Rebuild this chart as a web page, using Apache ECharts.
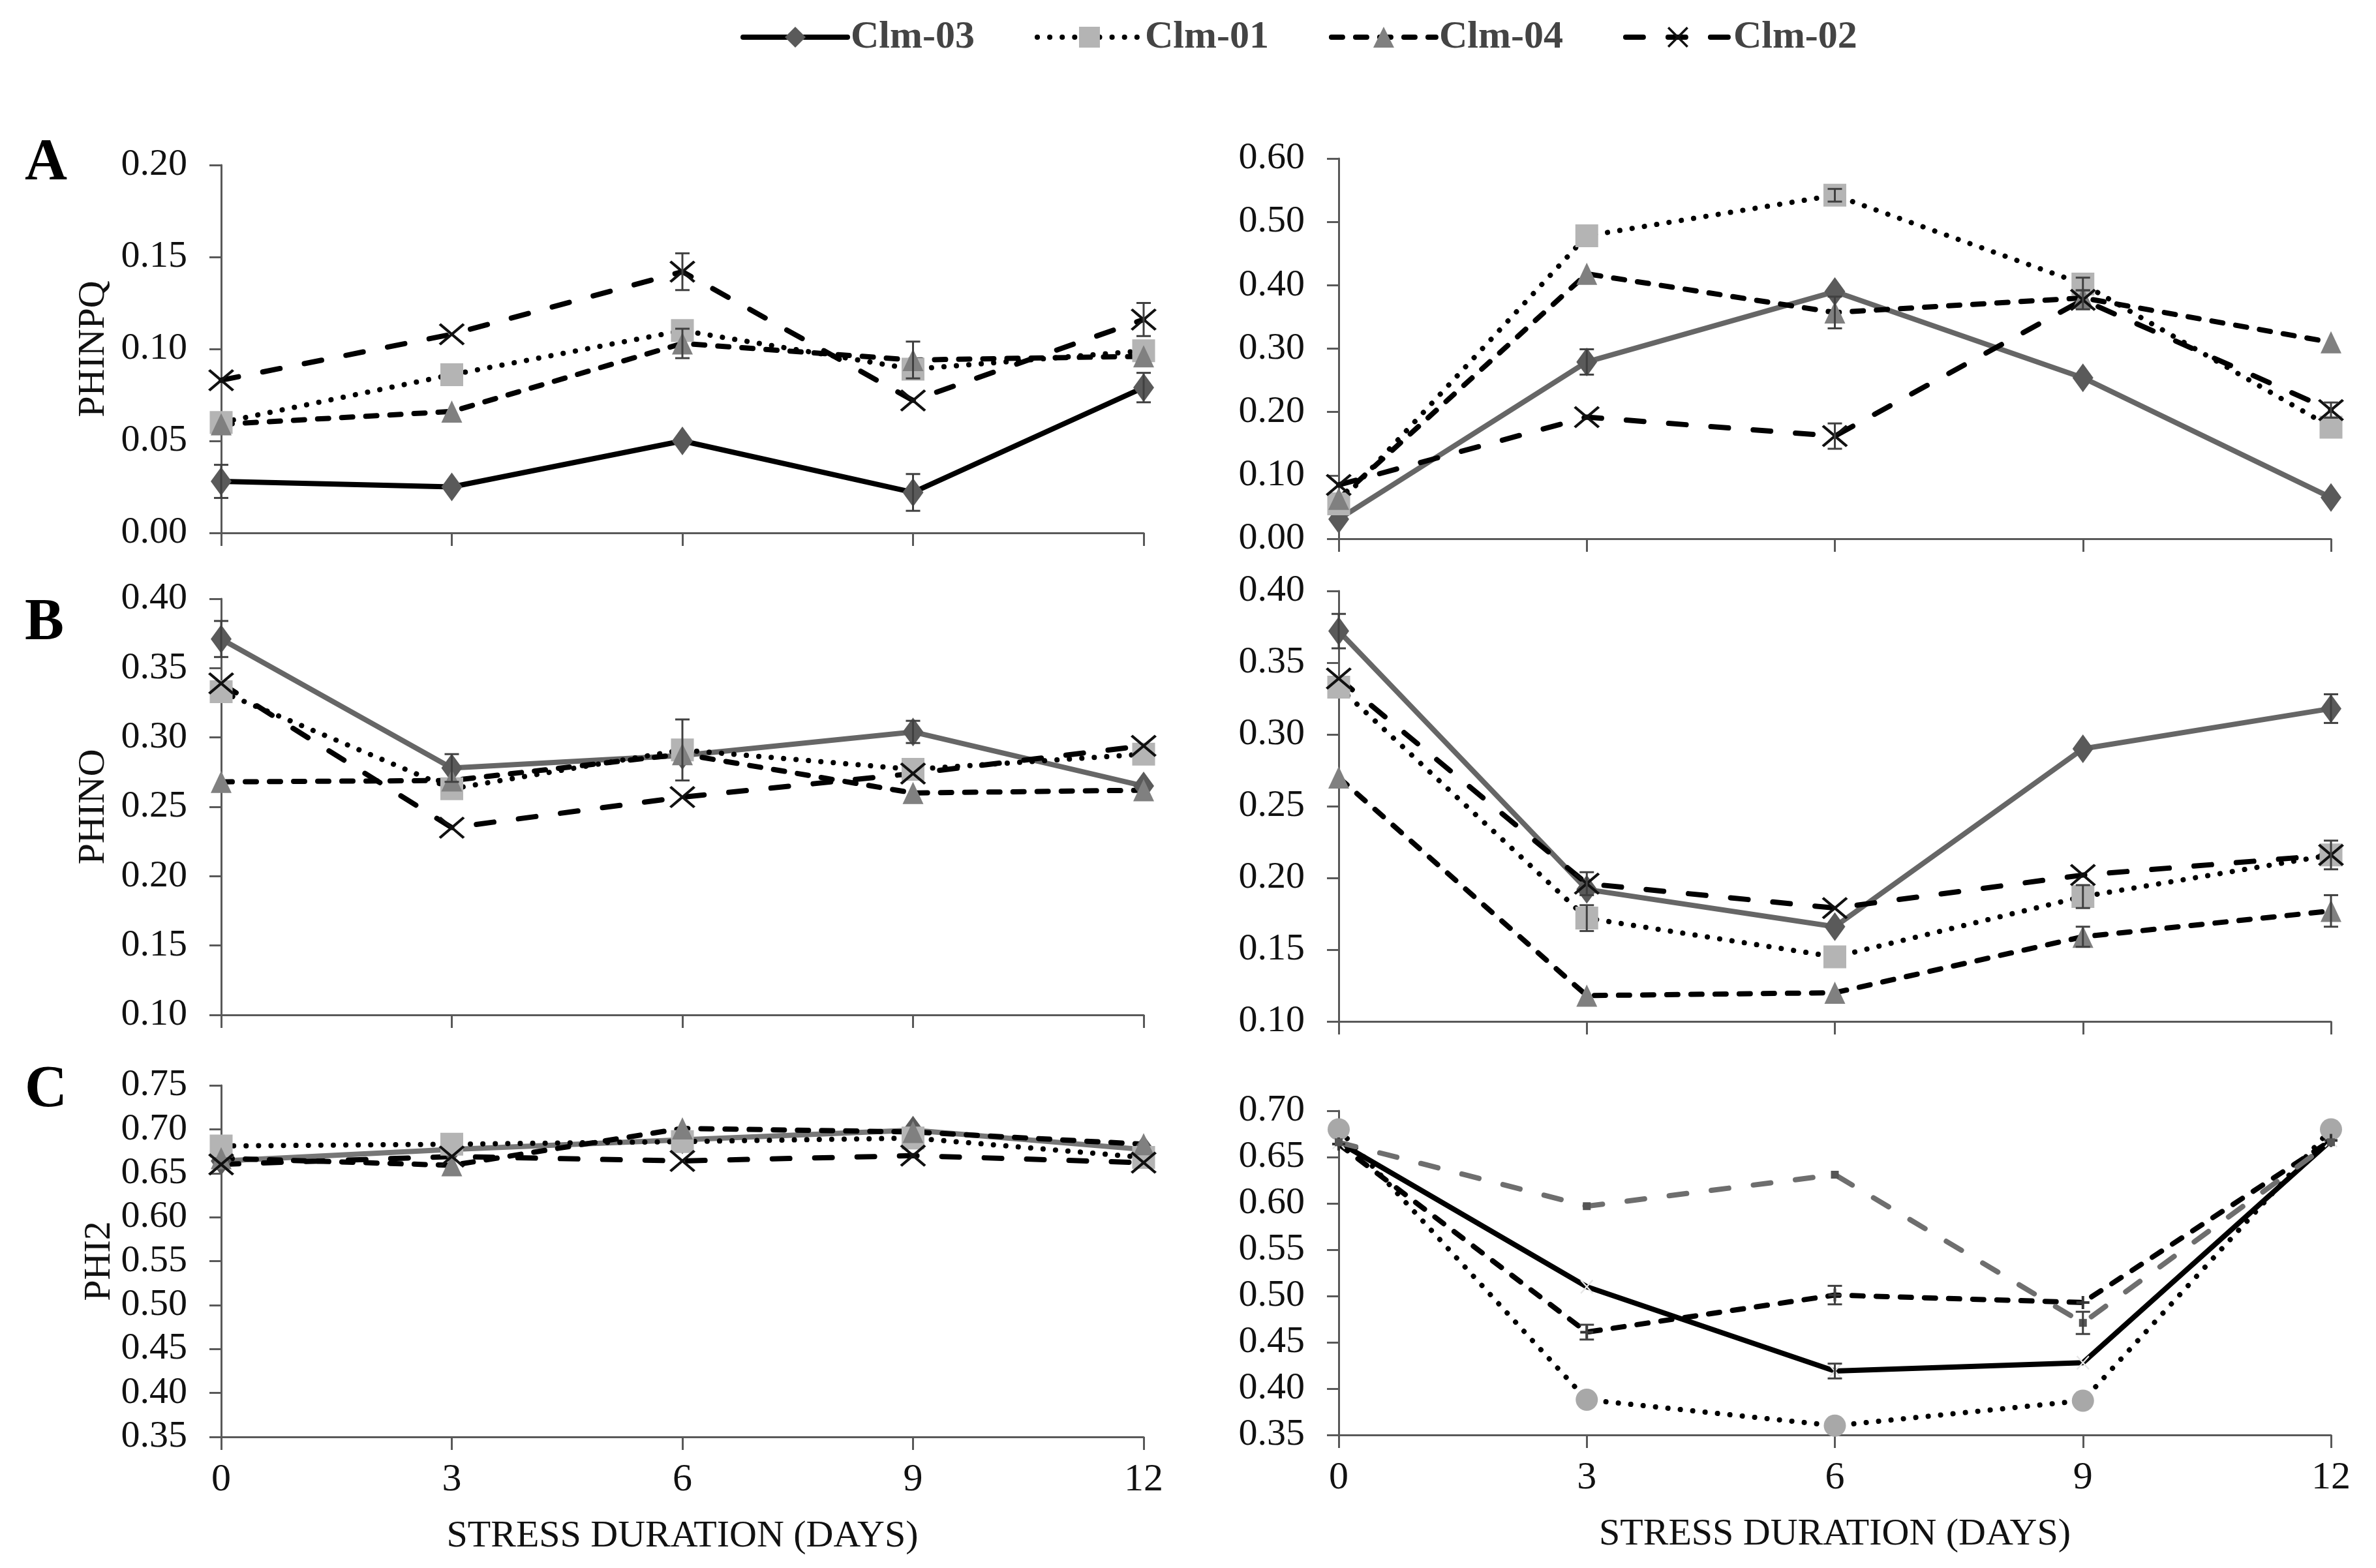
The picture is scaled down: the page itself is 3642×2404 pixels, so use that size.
<!DOCTYPE html>
<html>
<head>
<meta charset="utf-8">
<script src="https://cdn.jsdelivr.net/npm/echarts@6/dist/echarts.min.js"></script>
<style>html,body{margin:0;padding:0;background:#fff}#chart{width:3642px;height:2404px}</style>
</head>
<body>
<div id="chart"></div>
<script>
// ---------- DATA ----------
const days = [0, 3, 6, 9, 12];
const seriesNames = ['Clm-03', 'Clm-01', 'Clm-04', 'Clm-02'];

// rows: Clm-03, Clm-01, Clm-04, Clm-02
const phinpqLeft = [
  [0.028, 0.025, 0.050, 0.022, 0.079],
  [0.060, 0.086, 0.110, 0.089, 0.099],
  [0.059, 0.066, 0.103, 0.094, 0.096],
  [0.083, 0.108, 0.142, 0.072, 0.116]
];
const phinpqLeftErr = [
  [0.009, 0, 0, 0.010, 0.008],
  [0, 0, 0, 0, 0],
  [0, 0, 0.008, 0.010, 0],
  [0, 0, 0.010, 0, 0.009]
];
const phinpqRight = [
  [0.031, 0.279, 0.390, 0.254, 0.065],
  [0.055, 0.478, 0.542, 0.402, 0.176],
  [0.063, 0.418, 0.357, 0.380, 0.310],
  [0.085, 0.192, 0.162, 0.377, 0.203]
];
const phinpqRightErr = [
  [0, 0.020, 0, 0, 0],
  [0, 0, 0.010, 0.010, 0],
  [0, 0, 0.025, 0, 0],
  [0, 0, 0.020, 0.015, 0.012]
];
const phinoLeft = [
  [0.371, 0.278, 0.287, 0.304, 0.265],
  [0.333, 0.263, 0.291, 0.277, 0.288],
  [0.268, 0.269, 0.288, 0.260, 0.262],
  [0.339, 0.235, 0.257, 0.274, 0.294]
];
const phinoLeftErr = [
  [0.013, 0.010, 0, 0.008, 0],
  [0, 0, 0.022, 0, 0],
  [0, 0, 0, 0, 0],
  [0, 0, 0, 0, 0]
];
const phinoRight = [
  [0.372, 0.192, 0.166, 0.290, 0.318],
  [0.333, 0.172, 0.145, 0.187, 0.216],
  [0.270, 0.118, 0.120, 0.159, 0.177],
  [0.339, 0.196, 0.179, 0.202, 0.216]
];
const phinoRightErr = [
  [0.012, 0, 0, 0, 0.010],
  [0, 0.009, 0, 0.008, 0.010],
  [0, 0, 0, 0.007, 0.011],
  [0, 0.008, 0, 0, 0]
];
const phi2Left = [
  [0.664, 0.677, 0.688, 0.699, 0.677],
  [0.681, 0.683, 0.686, 0.690, 0.668],
  [0.667, 0.659, 0.701, 0.697, 0.683],
  [0.660, 0.669, 0.664, 0.670, 0.662]
];
const phi2LeftErr = [
  [0, 0, 0, 0, 0],
  [0, 0, 0, 0, 0],
  [0, 0, 0, 0, 0],
  [0, 0, 0, 0, 0]
];
const phi2Right = [
  [0.666, 0.510, 0.419, 0.428, 0.668],
  [0.680, 0.388, 0.360, 0.387, 0.680],
  [0.664, 0.461, 0.501, 0.493, 0.668],
  [0.666, 0.597, 0.631, 0.471, 0.666]
];
const phi2RightErr = [
  [0, 0, 0.008, 0, 0],
  [0, 0, 0, 0, 0],
  [0, 0.008, 0.010, 0, 0],
  [0, 0, 0, 0.012, 0]
];
const yTitles = ['PHINPQ', 'PHINO', 'PHI2'];
const panelLetters = ['A', 'B', 'C'];
const xTitle = 'STRESS DURATION (DAYS)';

// ---------- LAYOUT / STYLE ----------
const FONT = "'Liberation Serif', 'Times New Roman', serif";
const X_PATH = 'path://M0,0.8 L0.8,0 L5,4.2 L9.2,0 L10,0.8 L5.8,5 L10,9.2 L9.2,10 L5,5.8 L0.8,10 L0,9.2 L4.2,5 Z';
const PLUS_PATH = 'path://M4,0 H6 V4 H10 V6 H6 V10 H4 V6 H0 V4 H4 Z';

const panels = [
  {data: phinpqLeft, err: phinpqLeftErr, grid: {left: 339, top: 253, width: 1414, height: 564}, min: 0, max: 0.2, interval: 0.05, row: 0, col: 0, c03: '#000000'},
  {data: phinpqRight, err: phinpqRightErr, grid: {left: 2052, top: 243, width: 1521, height: 583}, min: 0, max: 0.6, interval: 0.1, row: 0, col: 1, c03: '#666666'},
  {data: phinoLeft, err: phinoLeftErr, grid: {left: 339, top: 918, width: 1414, height: 638}, min: 0.1, max: 0.4, interval: 0.05, row: 1, col: 0, c03: '#666666'},
  {data: phinoRight, err: phinoRightErr, grid: {left: 2052, top: 906, width: 1521, height: 660}, min: 0.1, max: 0.4, interval: 0.05, row: 1, col: 1, c03: '#666666'},
  {data: phi2Left, err: phi2LeftErr, grid: {left: 339, top: 1664, width: 1414, height: 539}, min: 0.35, max: 0.75, interval: 0.05, row: 2, col: 0, c03: '#777777'},
  {data: phi2Right, err: phi2RightErr, grid: {left: 2052, top: 1703, width: 1521, height: 497}, min: 0.35, max: 0.70, interval: 0.05, row: 2, col: 1, c03: '#000000', special: true}
];

const LW = 8;
const DOT = [0.1, 19], SHORT = [17, 20], LONG = [27, 38];
function styleFor(si, p) {
  if (p.special) {
    return [
      {lineStyle: {color: '#000', width: LW, type: 'solid', cap: 'round'}, symbol: X_PATH, symbolSize: [20, 22], itemStyle: {color: '#e6e6e6'}},
      {lineStyle: {color: '#000', width: LW, type: DOT, cap: 'round'}, symbol: 'circle', symbolSize: 34, itemStyle: {color: '#a8a8a8'}},
      {lineStyle: {color: '#000', width: LW, type: SHORT, cap: 'round'}, symbol: PLUS_PATH, symbolSize: 20, itemStyle: {color: '#333'}},
      {lineStyle: {color: '#6e6e6e', width: LW, type: LONG, cap: 'round'}, symbol: 'rect', symbolSize: 12, itemStyle: {color: '#555'}}
    ][si];
  }
  return [
    {lineStyle: {color: p.c03, width: LW, type: 'solid', cap: 'round'}, symbol: 'diamond', symbolSize: [32, 44], itemStyle: {color: '#5a5a5a'}},
    {lineStyle: {color: '#000', width: LW, type: DOT, cap: 'round'}, symbol: 'rect', symbolSize: [35, 35], itemStyle: {color: '#b4b4b4'}},
    {lineStyle: {color: '#000', width: LW, type: SHORT, cap: 'round'}, symbol: 'triangle', symbolSize: [32, 34], itemStyle: {color: '#808080'}},
    {lineStyle: {color: '#000', width: LW, type: LONG, cap: 'round'}, symbol: X_PATH, symbolSize: [40, 34], itemStyle: {color: '#111'}}
  ][si];
}

const grids = [], xAxes = [], yAxes = [], series = [];
panels.forEach((p, pi) => {
  grids.push(p.grid);
  const isBottom = p.row === 2;
  xAxes.push({
    type: 'value', gridIndex: pi, min: 0, max: 12, interval: 3,
    axisLine: {onZero: false, lineStyle: {color: '#595959', width: 3}},
    axisTick: {show: true, inside: false, length: 20, lineStyle: {color: '#595959', width: 3}},
    axisLabel: {show: isBottom, fontFamily: FONT, fontSize: 60, color: '#111', margin: 36},
    splitLine: {show: false},
    name: isBottom ? xTitle : '', nameLocation: 'middle', nameGap: 124,
    nameTextStyle: {fontFamily: FONT, fontSize: 58, color: '#111'}
  });
  yAxes.push({
    type: 'value', gridIndex: pi, min: p.min, max: p.max, interval: p.interval,
    axisLine: {show: true, onZero: false, lineStyle: {color: '#595959', width: 3}},
    axisTick: {show: true, inside: false, length: 18, lineStyle: {color: '#595959', width: 3}},
    axisLabel: {fontFamily: FONT, fontSize: 58, color: '#111', margin: 52, formatter: v => v.toFixed(2)},
    splitLine: {show: false},
    name: p.col === 0 ? yTitles[p.row] : '', nameLocation: 'middle', nameGap: p.row === 2 ? 152 : 166,
    nameTextStyle: {fontFamily: FONT, fontSize: 58, color: '#111'}
  });
  p.data.forEach((vals, si) => {
    const st = styleFor(si, p);
    series.push(Object.assign({
      type: 'line', name: seriesNames[si], xAxisIndex: pi, yAxisIndex: pi,
      data: days.map((d, k) => [d, vals[k]]), showAllSymbol: true, z: 3,
      emphasis: {disabled: true}
    }, st));
  });
  const errData = [];
  p.err.forEach((row, si) => row.forEach((e, k) => { if (e > 0) errData.push([days[k], p.data[si][k], e]); }));
  series.push({
    type: 'custom', name: 'err', xAxisIndex: pi, yAxisIndex: pi, z: 4,
    data: errData,
    renderItem: (params, api) => {
      const x = api.value(0), y = api.value(1), e = api.value(2);
      const top = api.coord([x, y + e]), bot = api.coord([x, y - e]);
      const s = {stroke: '#404040', lineWidth: 3};
      return {type: 'group', children: [
        {type: 'line', shape: {x1: top[0], y1: top[1], x2: bot[0], y2: bot[1]}, style: s},
        {type: 'line', shape: {x1: top[0] - 11, y1: top[1], x2: top[0] + 11, y2: top[1]}, style: s},
        {type: 'line', shape: {x1: bot[0] - 11, y1: bot[1], x2: bot[0] + 11, y2: bot[1]}, style: s}
      ]};
    }
  });
});

const letterY = [252, 957, 1673];
const graphics = panelLetters.map((t, i) => ({
  type: 'text', left: 38, top: letterY[i] - 45,
  style: {text: t, font: 'bold 90px ' + FONT, fill: '#000'}
}));

const chart = echarts.init(document.getElementById('chart'));
chart.setOption({
  animation: false,
  backgroundColor: '#fff',
  legend: {
    data: seriesNames, left: 1130, top: 22, itemWidth: 160, itemHeight: 40, itemGap: 92,
    lineStyle: {width: LW},
    textStyle: {fontFamily: FONT, fontSize: 60, color: '#444', fontWeight: 'bold'}
  },
  grid: grids, xAxis: xAxes, yAxis: yAxes, series: series, graphic: graphics
});
</script>
</body>
</html>
